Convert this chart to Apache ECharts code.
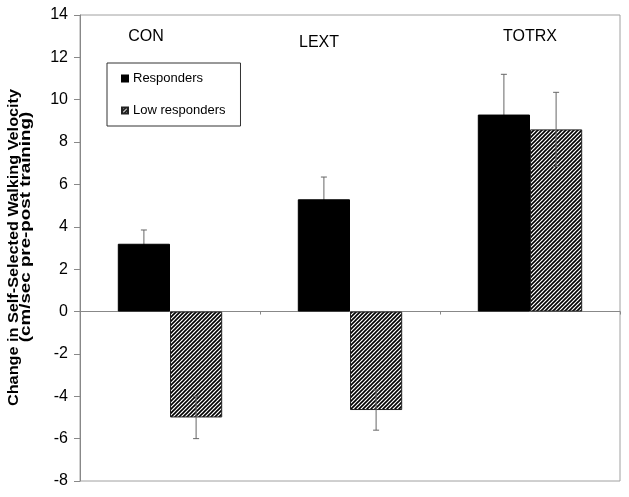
<!DOCTYPE html>
<html>
<head>
<meta charset="utf-8">
<script src="https://cdn.jsdelivr.net/npm/echarts@6/dist/echarts.min.js"></script>
<style>
html,body{margin:0;padding:0;background:#fff;}
#main{width:629px;height:497px;}
</style>
</head>
<body>
<div id="main"></div>
<script>
var categories = ['CON', 'LEXT', 'TOTRX'];
var responders = [3.2, 5.3, 9.3];
var respondersErr = [0.65, 1.05, 1.9];
var lowResponders = [-5.0, -4.65, 8.6];
var lowRespondersErr = [1.0, 0.95, 1.75];
var yTicks = [-8, -6, -4, -2, 0, 2, 4, 6, 8, 10, 12, 14];

function makeHatch() {
  var c = document.createElement('canvas');
  c.width = 4; c.height = 4;
  var g = c.getContext('2d');
  g.fillStyle = '#fff';
  g.fillRect(0, 0, 4, 4);
  g.strokeStyle = '#000';
  g.lineWidth = 1.6;
  g.beginPath();
  g.moveTo(-1, 5); g.lineTo(5, -1);
  g.moveTo(-1, 1); g.lineTo(1, -1);
  g.moveTo(3, 5); g.lineTo(5, 3);
  g.stroke();
  return c;
}
var hatch = { image: makeHatch(), repeat: 'repeat' };

var GAP = 0.42;
function errSeries(values, errs, side, z) {
  var data = values.map(function (v, i) { return [i, v, errs[i]]; });
  return {
    type: 'custom',
    silent: true,
    z: z,
    data: data,
    renderItem: function (params, api) {
      var i = api.value(0), v = api.value(1), e = api.value(2);
      var band = api.size([1, 0])[0];
      var off = side * band * (1 - GAP) / 4;
      var hi = api.coord([i, v + e]);
      var lo = api.coord([i, v - e]);
      var x = hi[0] + off;
      var cap = 3;
      var style = { stroke: '#666', lineWidth: 1 };
      return {
        type: 'group',
        children: [
          { type: 'line', shape: { x1: x, y1: hi[1], x2: x, y2: lo[1] }, style: style },
          { type: 'line', shape: { x1: x - cap, y1: hi[1], x2: x + cap, y2: hi[1] }, style: style },
          { type: 'line', shape: { x1: x - cap, y1: lo[1], x2: x + cap, y2: lo[1] }, style: style }
        ]
      };
    }
  };
}

var chart = echarts.init(document.getElementById('main'), null, { renderer: 'canvas' });
var font = 'Arial, "Liberation Sans", sans-serif';
chart.setOption({
  animation: false,
  textStyle: { fontFamily: font },
  grid: { left: 80, top: 15, right: 9, bottom: 16, show: true, borderColor: '#a0a0a0', borderWidth: 1 },
  legend: {
    orient: 'vertical',
    left: 107, top: 63,
    padding: [9, 15, 9, 14],
    borderColor: '#333', borderWidth: 1,
    itemWidth: 6, itemHeight: 6, itemGap: 19,
    textStyle: { fontSize: 13, color: '#000', fontFamily: font },
    data: [
      { name: 'Responders', icon: 'rect' },
      { name: 'Low responders', icon: 'rect' }
    ]
  },
  xAxis: {
    type: 'category',
    data: categories,
    axisLine: { onZero: true, lineStyle: { color: '#888', width: 1 } },
    axisTick: { show: true, length: 3, lineStyle: { color: '#888' } },
    axisLabel: { show: false },
    splitLine: { show: false }
  },
  yAxis: {
    type: 'value',
    min: yTicks[0], max: yTicks[yTicks.length - 1], interval: 2,
    axisLine: { show: true, lineStyle: { color: '#888', width: 1 } },
    axisTick: { show: true, length: 6, lineStyle: { color: '#888' } },
    axisLabel: { fontSize: 16, color: '#000', margin: 12, fontFamily: font },
    splitLine: { show: false }
  },
  series: [
    errSeries(responders, respondersErr, -1, 1),
    {
      name: 'Responders', type: 'bar', data: responders, z: 2,
      barGap: '0%', barCategoryGap: '42%',
      itemStyle: { color: '#000', borderColor: '#000', borderWidth: 1 }
    },
    {
      name: 'Low responders', type: 'bar', data: lowResponders, z: 2,
      barGap: '0%', barCategoryGap: '42%',
      itemStyle: { color: hatch, borderColor: '#222', borderWidth: 1 }
    },
    errSeries(lowResponders, lowRespondersErr, 1, 10)
  ],
  graphic: [
    { type: 'text', x: 146, y: 36.5, style: { text: 'CON', font: '16px ' + font, fill: '#000', align: 'center', verticalAlign: 'middle' } },
    { type: 'text', x: 319, y: 42.5, style: { text: 'LEXT', font: '16px ' + font, fill: '#000', align: 'center', verticalAlign: 'middle' } },
    { type: 'text', x: 530, y: 37, style: { text: 'TOTRX', font: '16px ' + font, fill: '#000', align: 'center', verticalAlign: 'middle' } },
    { type: 'text', x: 14, y: 247.5, rotation: Math.PI / 2, scaleX: 1.16, style: { text: 'Change in Self-Selected Walking Velocity', font: 'bold 14px ' + font, fill: '#000', align: 'center', verticalAlign: 'middle' } },
    { type: 'text', x: 26, y: 227, rotation: Math.PI / 2, scaleX: 1.34, style: { text: '(cm/sec pre-post training)', font: 'bold 14px ' + font, fill: '#000', align: 'center', verticalAlign: 'middle' } }
  ]
});
</script>
</body>
</html>
